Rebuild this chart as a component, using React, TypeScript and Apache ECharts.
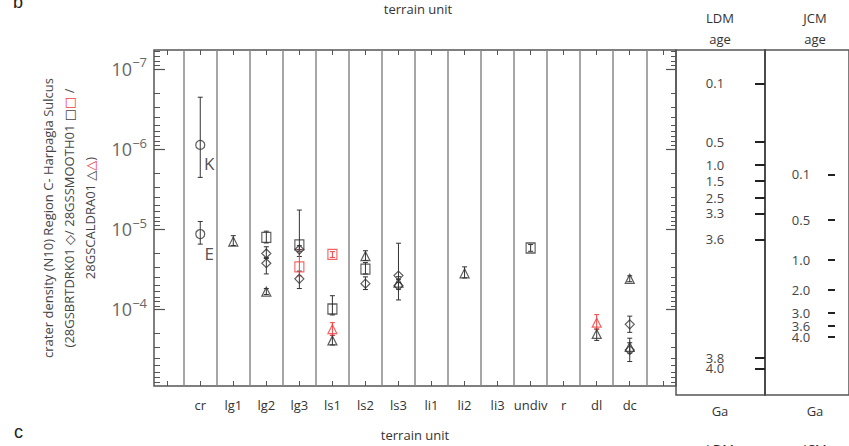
import React, { useEffect, useRef } from "react";
import * as echarts from "echarts";

const FONT = "'Open Sans', 'DejaVu Sans', sans-serif";

// terrain units along the x axis (first/last are empty margin slots)
const units = ["", "cr", "lg1", "lg2", "lg3", "ls1", "ls2", "ls3", "li1", "li2", "li3", "undiv", "r", "dl", "dc", ""];

// [unit, N10 density, lower error, upper error]
type Pt = [string, number, number, number];

const circlePoints: Pt[] = [
  ["cr", 8.85e-7, 2.25e-7, 2.25e-6],
  ["cr", 1.145e-5, 7.98e-6, 1.53e-5],
];
const circleLabels = ["K", "E"];

const diamondPoints: Pt[] = [
  ["lg2", 2.0e-5, 1.65e-5, 2.31e-5],
  ["lg2", 2.65e-5, 2.24e-5, 3.6e-5],
  ["lg3", 1.79e-5, 1.6e-5, 2.18e-5],
  ["lg3", 4.15e-5, 3.32e-5, 5.48e-5],
  ["ls2", 4.76e-5, 3.92e-5, 5.64e-5],
  ["ls3", 3.78e-5, 1.49e-5, 4.6e-5],
  ["ls3", 5.05e-5, 4.2e-5, 7.6e-5],
  ["dc", 1.53e-4, 1.21e-4, 1.93e-4],
  ["dc", 3.21e-4, 2.6e-4, 4.46e-4],
];

const squarePoints: Pt[] = [
  ["lg2", 1.26e-5, 1.055e-5, 1.48e-5],
  ["lg3", 1.56e-5, 5.75e-6, 1.9e-5],
  ["ls1", 9.86e-5, 6.73e-5, 1.17e-4],
  ["ls2", 3.13e-5, 2.6e-5, 3.6e-5],
  ["undiv", 1.71e-5, 1.55e-5, 1.88e-5],
];

const squareRedPoints: Pt[] = [
  ["lg3", 2.94e-5, 1.79e-5, 3.81e-5],
  ["ls1", 2.06e-5, 1.9e-5, 2.24e-5],
];

const trianglePoints: Pt[] = [
  ["lg1", 1.42e-5, 1.2e-5, 1.59e-5],
  ["lg2", 6.0e-5, 5.48e-5, 6.5e-5],
  ["ls1", 2.43e-4, 2.1e-4, 2.77e-4],
  ["ls2", 2.16e-5, 1.85e-5, 2.44e-5],
  ["ls3", 4.63e-5, 3.9e-5, 5.6e-5],
  ["li2", 3.54e-5, 2.94e-5, 4.04e-5],
  ["dl", 2.02e-4, 1.75e-4, 2.43e-4],
  ["dc", 4.15e-5, 3.8e-5, 4.5e-5],
  ["dc", 2.93e-4, 2.28e-4, 3.5e-4],
];

const triangleRedPoints: Pt[] = [
  ["ls1", 1.76e-4, 1.46e-4, 2.1e-4],
  ["dl", 1.46e-4, 1.16e-4, 1.77e-4],
];

// y axis (crater density, inverted log scale)
const yMin = 5.8e-8;
const yMax = 9e-4;
const decadeTicks = [1e-7, 1e-6, 1e-5, 1e-4];

// model ages placed on the density scale
const ldmAges = ["0.1", "0.5", "1.0", "1.5", "2.5", "3.3", "3.6", "3.8", "4.0"];
const ldmDensity = [1.48e-7, 7.57e-7, 1.45e-6, 2.27e-6, 3.61e-6, 5.6e-6, 1.156e-5, 3.21e-4, 4.26e-4];
const jcmAges = ["0.1", "0.5", "1.0", "2.0", "3.0", "3.6", "4.0"];
const jcmDensity = [1.88e-6, 6.75e-6, 2.06e-5, 4.76e-5, 9.14e-5, 1.3e-4, 1.76e-4];

const BLACK = "#333";
const RED = "#f04040";
const FRAME = "#555";

function minorTicks(): number[] {
  const out: number[] = [];
  for (let e = -8; e <= -4; e++) {
    for (let m = 2; m <= 9; m++) {
      const v = m * Math.pow(10, e);
      if (v >= yMin && v <= yMax) out.push(v);
    }
  }
  return out;
}

function nearestIndex(vals: number[], v: number) {
  let best = 0;
  let bd = Infinity;
  vals.forEach((x, i) => {
    const d = Math.abs(Math.log10(x) - Math.log10(v));
    if (d < bd) {
      bd = d;
      best = i;
    }
  });
  return best;
}

const idx = (u: string) => units.indexOf(u);
const separators = units.slice(1).map((_, i) => i + 0.5);

function scatter(pts: Pt[], symbol: string, size: number | number[], color: string, extra: any = {}) {
  return {
    type: "scatter",
    xAxisIndex: 0,
    yAxisIndex: 0,
    symbol,
    symbolSize: size,
    data: pts.map((p) => [idx(p[0]), p[1]]),
    itemStyle: { color: "rgba(255,255,255,0)", borderColor: color, borderWidth: 1.2 },
    z: 4,
    ...extra,
  };
}

function errors(pts: Pt[], color: string) {
  return {
    type: "custom",
    xAxisIndex: 0,
    yAxisIndex: 0,
    data: pts.map((p) => [idx(p[0]), p[2], p[3]]),
    encode: { x: 0, y: [1, 2] },
    z: 3,
    renderItem: (_params: any, api: any) => {
      const x = api.value(0);
      const a = api.coord([x, api.value(1)]);
      const b = api.coord([x, api.value(2)]);
      const w = 2.5;
      const style = { stroke: color, lineWidth: 1 };
      return {
        type: "group",
        children: [
          { type: "line", shape: { x1: a[0], y1: a[1], x2: b[0], y2: b[1] }, style },
          { type: "line", shape: { x1: a[0] - w, y1: a[1], x2: a[0] + w, y2: a[1] }, style },
          { type: "line", shape: { x1: b[0] - w, y1: b[1], x2: b[0] + w, y2: b[1] }, style },
        ],
      };
    },
  };
}

function logAxis(extra: any) {
  return {
    type: "log",
    logBase: 10,
    min: yMin,
    max: yMax,
    inverse: true,
    splitLine: { show: false },
    axisLine: { show: false, onZero: false },
    axisLabel: { show: false },
    axisTick: { show: false },
    ...extra,
  };
}

const textBase = { fontFamily: FONT, color: "#333", fontSize: 13 };

// age label axis (labels only); values split in two axes so none is auto-hidden
function ageLabelAxis(grid: number, offset: number, margin: number, values: number[], ages: string[], all: number[]) {
  return logAxis({
    gridIndex: grid,
    position: "right",
    offset,
    axisLabel: {
      show: true,
      inside: true,
      hideOverlap: false,
      customValues: values,
      margin,
      align: "center",
      formatter: (v: number) => ages[nearestIndex(all, v)],
      ...textBase,
      color: "#444",
      lineHeight: 11,
    },
  });
}

export default function App() {
  const ref = useRef<HTMLDivElement>(null);

  useEffect(() => {
    document.body.style.margin = "0";
    const chart = echarts.init(ref.current!, null, { renderer: "svg" });
    const minors = minorTicks();
    const catTicks = units.map((_, i) => i);
    const catLabels = units.map((_, i) => i).filter((i) => units[i] !== "");
    const ldmA = ldmDensity.filter((_, i) => i % 2 === 0);
    const ldmB = ldmDensity.filter((_, i) => i % 2 === 1);
    const jcmA = jcmDensity.filter((_, i) => i % 2 === 0);
    const jcmB = jcmDensity.filter((_, i) => i % 2 === 1);

    const titleStyle = { ...textBase, fontWeight: "normal" as const };

    const option: any = {
      animation: false,
      backgroundColor: "#fff",
      title: [
        { text: "b", left: 8, top: -12, textStyle: { fontFamily: "'Liberation Sans', sans-serif", fontSize: 18, fontWeight: "normal", color: "#222" } },
        { text: "terrain unit", left: 413, top: -3, textAlign: "center", textStyle: { ...titleStyle } },
        { text: "LDM\nage", left: 715, top: 2, textAlign: "center", textStyle: { ...titleStyle, lineHeight: 21 } },
        { text: "JCM\nage", left: 810, top: 2, textAlign: "center", textStyle: { ...titleStyle, lineHeight: 21 } },
        { text: "Ga", left: 715, top: 396, textAlign: "center", textStyle: { ...titleStyle, lineHeight: 20 } },
        { text: "Ga", left: 810, top: 396, textAlign: "center", textStyle: { ...titleStyle, lineHeight: 20 } },
        { text: "c", left: 9, top: 418, textStyle: { fontFamily: "'Liberation Sans', sans-serif", fontSize: 18, fontWeight: "normal", color: "#222" } },
        { text: "LDM", left: 715, top: 437, textAlign: "center", textStyle: { ...titleStyle } },
        { text: "JCM", left: 810, top: 437, textAlign: "center", textStyle: { ...titleStyle } },
      ],
      grid: [
        { left: 154, right: 173, top: 50, bottom: 51, show: true, borderColor: FRAME, borderWidth: 1.5, backgroundColor: "transparent" },
        { left: 676, right: 84, top: 50, bottom: 51, show: true, borderColor: FRAME, borderWidth: 1.5, backgroundColor: "transparent" },
        { left: 765, right: -6, top: 50, bottom: 51, show: true, borderColor: FRAME, borderWidth: 1.5, backgroundColor: "transparent" },
      ],
      xAxis: [
        {
          type: "value",
          gridIndex: 0,
          position: "bottom",
          min: -0.4,
          max: 15.4,
          splitLine: { show: false },
          axisLine: { show: false, onZero: false },
          axisTick: { show: true, inside: true, length: 5, customValues: catTicks, lineStyle: { color: FRAME, width: 1 } },
          axisLabel: {
            customValues: catLabels,
            hideOverlap: false,
            formatter: (v: number) => units[Math.round(v)],
            ...textBase,
            margin: 12,
          },
          name: "terrain unit",
          nameLocation: "middle",
          nameGap: 42,
          nameTextStyle: { ...textBase },
        },
        {
          type: "value",
          gridIndex: 0,
          position: "top",
          min: -0.4,
          max: 15.4,
          splitLine: { show: false },
          axisLine: { show: false, onZero: false },
          axisTick: { show: true, inside: true, length: 5, customValues: catTicks, lineStyle: { color: FRAME, width: 1 } },
          axisLabel: { show: false },
        },
        { type: "value", gridIndex: 1, min: 0, max: 1, show: false },
        { type: "value", gridIndex: 2, min: 0, max: 1, show: false },
      ],
      yAxis: [
        logAxis({
          gridIndex: 0,
          position: "left",
          axisTick: { show: true, inside: true, length: 11, customValues: decadeTicks, lineStyle: { color: FRAME, width: 1.2 } },
          axisLabel: {
            show: true,
            customValues: decadeTicks,
            margin: 7,
            formatter: (v: number) => `{b|10}{s|\u2212${Math.round(-Math.log10(v))}}`,
            rich: {
              b: { fontSize: 18, fontFamily: FONT, color: "#666", lineHeight: 26 },
              s: { fontSize: 13, fontFamily: FONT, color: "#666", lineHeight: 14, verticalAlign: "top" },
            },
          },
          name:
            "crater density (N10) Region C- Harpagia Sulcus\n(28GSBRTDRK01 \u25C7/ 28GSSMOOTH01 \u25A1{r|\u25A1} /\n28GSCALDRA01 \u25B3{r|\u25B3})",
          nameLocation: "middle",
          nameGap: 52,
          nameTextStyle: {
            fontFamily: FONT,
            fontSize: 13,
            color: "#444",
            lineHeight: 21,
            rich: { r: { fontFamily: FONT, fontSize: 13, color: RED, lineHeight: 21 } },
          },
        }),
        logAxis({
          gridIndex: 0,
          position: "left",
          axisTick: { show: true, inside: true, length: 6, customValues: minors, lineStyle: { color: FRAME, width: 1 } },
        }),
        logAxis({
          gridIndex: 0,
          position: "right",
          axisTick: { show: true, inside: true, length: 10, customValues: decadeTicks, lineStyle: { color: FRAME, width: 1.2 } },
        }),
        logAxis({
          gridIndex: 0,
          position: "right",
          axisTick: { show: true, inside: true, length: 5, customValues: minors, lineStyle: { color: FRAME, width: 1 } },
        }),
        // LDM age ticks
        logAxis({
          gridIndex: 1,
          position: "right",
          axisLine: { show: true, onZero: false, lineStyle: { color: "#444", width: 1.5 } },
          axisTick: { show: true, inside: true, length: 10, customValues: ldmDensity, lineStyle: { color: "#222", width: 2 } },
        }),
        ageLabelAxis(1, 0, 50, ldmA, ldmAges, ldmDensity),
        ageLabelAxis(1, 0, 50, ldmB, ldmAges, ldmDensity),
        // JCM age ticks
        logAxis({
          gridIndex: 2,
          position: "right",
          offset: -14,
          axisTick: { show: true, inside: true, length: 7, customValues: jcmDensity, lineStyle: { color: "#222", width: 2 } },
        }),
        ageLabelAxis(2, -14, 34, jcmA, jcmAges, jcmDensity),
        ageLabelAxis(2, -14, 34, jcmB, jcmAges, jcmDensity),
      ],
      series: [
        errors([...circlePoints, ...diamondPoints, ...squarePoints, ...trianglePoints], BLACK),
        errors([...squareRedPoints, ...triangleRedPoints], RED),
        scatter(circlePoints, "circle", 9, BLACK, {
          label: {
            show: true,
            position: "inside",
            offset: [9, 19],
            formatter: (p: any) => circleLabels[p.dataIndex],
            fontFamily: FONT,
            fontSize: 17,
            color: "#222",
          },
          markLine: {
            silent: true,
            symbol: ["none", "none"],
            label: { show: false },
            lineStyle: { color: "#888", width: 1.5, type: "solid" },
            data: separators.map((x) => ({ xAxis: x })),
          },
        }),
        scatter(diamondPoints, "diamond", [9, 9], BLACK),
        scatter(squarePoints, "rect", [9, 10], BLACK),
        scatter(trianglePoints, "triangle", [9, 9], BLACK),
        scatter(squareRedPoints, "rect", [9, 10], RED),
        scatter(triangleRedPoints, "triangle", [9, 9], RED),
      ],
    };

    chart.setOption(option);
    return () => chart.dispose();
  }, []);

  return <div ref={ref} style={{ width: 849, height: 446 }} />;
}
